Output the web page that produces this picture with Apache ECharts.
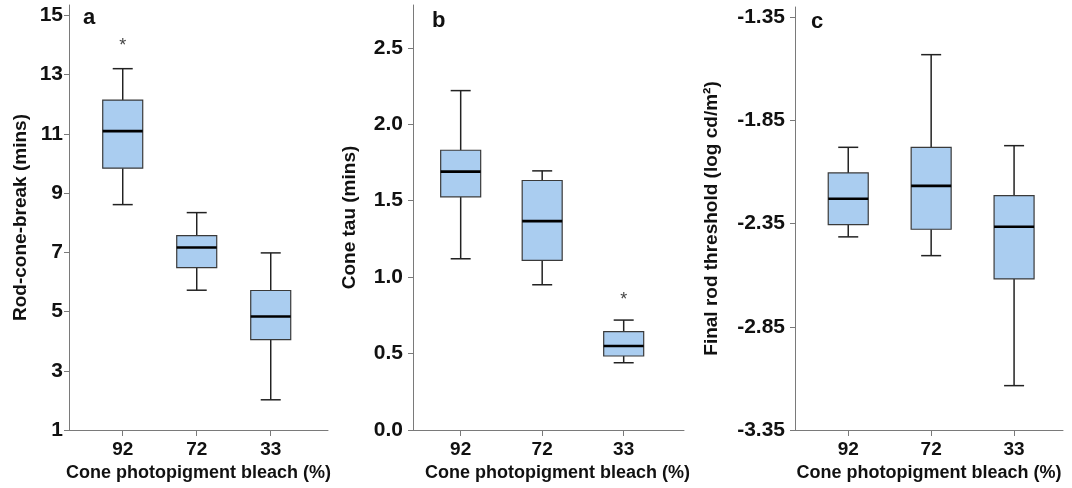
<!DOCTYPE html>
<html>
<head>
<meta charset="utf-8">
<script src="https://cdn.jsdelivr.net/npm/echarts@6/dist/echarts.min.js"></script>
<style>
  html, body { margin: 0; padding: 0; background: #ffffff; }
  #chart { width: 1072px; height: 488px; }
</style>
</head>
<body>
<div id="chart"></div>
<script>
  // categories (cone photopigment bleach %)
  const categories = ['92', '72', '33'];

  // boxes: [min, Q1, median, Q3, max]
  const rcbBoxes = [
    [8.61, 9.84, 11.09, 12.14, 13.2],
    [5.72, 6.48, 7.16, 7.56, 8.34],
    [2.02, 4.05, 4.83, 5.71, 6.98]
  ];
  const rcbOutliers = [[0, 14.08]];

  const tauBoxes = [
    [1.12, 1.525, 1.69, 1.83, 2.22],
    [0.95, 1.11, 1.366, 1.632, 1.695],
    [0.44, 0.484, 0.549, 0.643, 0.719]
  ];
  const tauOutliers = [[2, 0.87]];

  const rodBoxes = [
    [-2.414, -2.355, -2.229, -2.104, -1.98],
    [-2.505, -2.377, -2.167, -1.98, -1.531],
    [-3.135, -2.618, -2.365, -2.214, -1.972]
  ];
  const rodOutliers = [];

  // tick labels
  const rcbTicks = [1, 3, 5, 7, 9, 11, 13, 15];
  const tauTicks = [0, 0.5, 1, 1.5, 2, 2.5];
  const rodTicks = [-3.35, -2.85, -2.35, -1.85, -1.35];
  const catTicks = [1, 2, 3];

  const FONT = 'Liberation Sans, Arial, sans-serif';
  const AXIS_COLOR = '#7a7a7a';

  function renderBox(params, api) {
    let x = api.value(0);
    let pMin = api.coord([x, api.value(1)]);
    let pQ1 = api.coord([x, api.value(2)]);
    let pMed = api.coord([x, api.value(3)]);
    let pQ3 = api.coord([x, api.value(4)]);
    let pMax = api.coord([x, api.value(5)]);
    let cx = pMed[0];
    let hw = 20;   // half box width
    let cw = 10;   // half cap width
    let lineStyle = {stroke: '#222', lineWidth: 1.5};
    return {
      type: 'group',
      children: [
        {type: 'line', shape: {x1: cx, y1: pQ3[1], x2: cx, y2: pMax[1]}, style: lineStyle},
        {type: 'line', shape: {x1: cx, y1: pQ1[1], x2: cx, y2: pMin[1]}, style: lineStyle},
        {type: 'line', shape: {x1: cx - cw, y1: pMax[1], x2: cx + cw, y2: pMax[1]}, style: lineStyle},
        {type: 'line', shape: {x1: cx - cw, y1: pMin[1], x2: cx + cw, y2: pMin[1]}, style: lineStyle},
        {
          type: 'rect',
          shape: {x: cx - hw, y: pQ3[1], width: hw * 2, height: pQ1[1] - pQ3[1]},
          style: {fill: '#aacdf0', stroke: '#3a3a3a', lineWidth: 1.2}
        },
        {type: 'line', shape: {x1: cx - hw, y1: pMed[1], x2: cx + hw, y2: pMed[1]}, style: {stroke: '#000', lineWidth: 2.6}}
      ]
    };
  }

  function renderStar(params, api) {
    let p = api.coord([api.value(0) + 1, api.value(1)]);
    return {
      type: 'text',
      x: p[0],
      y: p[1] + 3,
      style: {text: '*', fill: '#444', font: '18px ' + FONT, align: 'center', verticalAlign: 'middle'}
    };
  }

  function xAxisFor(idx, min, max, nameOffset) {
    return {
      type: 'value',
      gridIndex: idx,
      min: min,
      max: max,
      name: 'Cone photopigment bleach (%)',
      nameLocation: 'middle',
      nameGap: 33,
      nameTextStyle: {fontFamily: FONT, fontWeight: 'bold', fontSize: 18, color: '#111', padding: [0, 0, 0, nameOffset]},
      axisLine: {lineStyle: {color: AXIS_COLOR, width: 1}},
      axisTick: {customValues: catTicks, length: 6, lineStyle: {color: AXIS_COLOR}},
      axisLabel: {
        customValues: catTicks,
        margin: 10,
        fontFamily: FONT, fontWeight: 'bold', fontSize: 19, color: '#111',
        formatter: function (v) { return categories[Math.round(v) - 1]; }
      },
      splitLine: {show: false}
    };
  }

  function yAxisFor(idx, min, max, ticks, digits, name, nameGap, margin) {
    return {
      type: 'value',
      gridIndex: idx,
      min: min,
      max: max,
      name: name,
      nameLocation: 'middle',
      nameGap: nameGap,
      nameTextStyle: {fontFamily: FONT, fontWeight: 'bold', fontSize: 19, color: '#111'},
      axisLine: {show: true, lineStyle: {color: AXIS_COLOR, width: 1}},
      axisTick: {show: true, customValues: ticks, length: 5, lineStyle: {color: AXIS_COLOR}},
      axisLabel: {
        customValues: ticks,
        margin: margin,
        fontFamily: FONT, fontWeight: 'bold', fontSize: 21, color: '#111',
        formatter: function (v) { return v.toFixed(digits); }
      },
      splitLine: {show: false}
    };
  }

  function boxSeries(idx, boxes) {
    return {
      type: 'custom',
      xAxisIndex: idx,
      yAxisIndex: idx,
      renderItem: renderBox,
      encode: {x: 0, y: [1, 2, 3, 4, 5]},
      data: boxes.map(function (b, i) { return [i + 1].concat(b); }),
      silent: true
    };
  }

  function starSeries(idx, outliers) {
    return {
      type: 'custom',
      xAxisIndex: idx,
      yAxisIndex: idx,
      renderItem: renderStar,
      encode: {x: 0, y: 1},
      data: outliers,
      silent: true
    };
  }

  let myChart = echarts.init(document.getElementById('chart'));

  myChart.setOption({
    backgroundColor: '#ffffff',
    animation: false,
    title: [
      {text: 'a', left: 83, top: 7, padding: 0, textStyle: {fontFamily: FONT, fontWeight: 'bold', fontSize: 22, color: '#111'}},
      {text: 'b', left: 432, top: 10, padding: 0, textStyle: {fontFamily: FONT, fontWeight: 'bold', fontSize: 22, color: '#111'}},
      {text: 'c', left: 811, top: 11, padding: 0, textStyle: {fontFamily: FONT, fontWeight: 'bold', fontSize: 22, color: '#111'}}
    ],
    grid: [
      {left: 69, right: 744, top: 5, bottom: 58},
      {left: 413, right: 388, top: 5, bottom: 58},
      {left: 795, right: 9, top: 7, bottom: 58}
    ],
    xAxis: [
      xAxisFor(0, 0.274, 3.774, 0),
      xAxisFor(1, 0.415, 3.74, 18),
      xAxisFor(2, 0.358, 3.59, 0)
    ],
    yAxis: [
      yAxisFor(0, 1, 15.35, rcbTicks, 0, 'Rod-cone-break (mins)', 39, 6),
      yAxisFor(1, 0, 2.78, tauTicks, 1, 'Cone tau (mins)', 54, 10),
      yAxisFor(2, -3.35, -1.30, rodTicks, 2, 'Final rod threshold (log cd/m²)', 74, 10)
    ],
    series: [
      boxSeries(0, rcbBoxes),
      starSeries(0, rcbOutliers),
      boxSeries(1, tauBoxes),
      starSeries(1, tauOutliers),
      boxSeries(2, rodBoxes),
      starSeries(2, rodOutliers)
    ]
  });
</script>
</body>
</html>
